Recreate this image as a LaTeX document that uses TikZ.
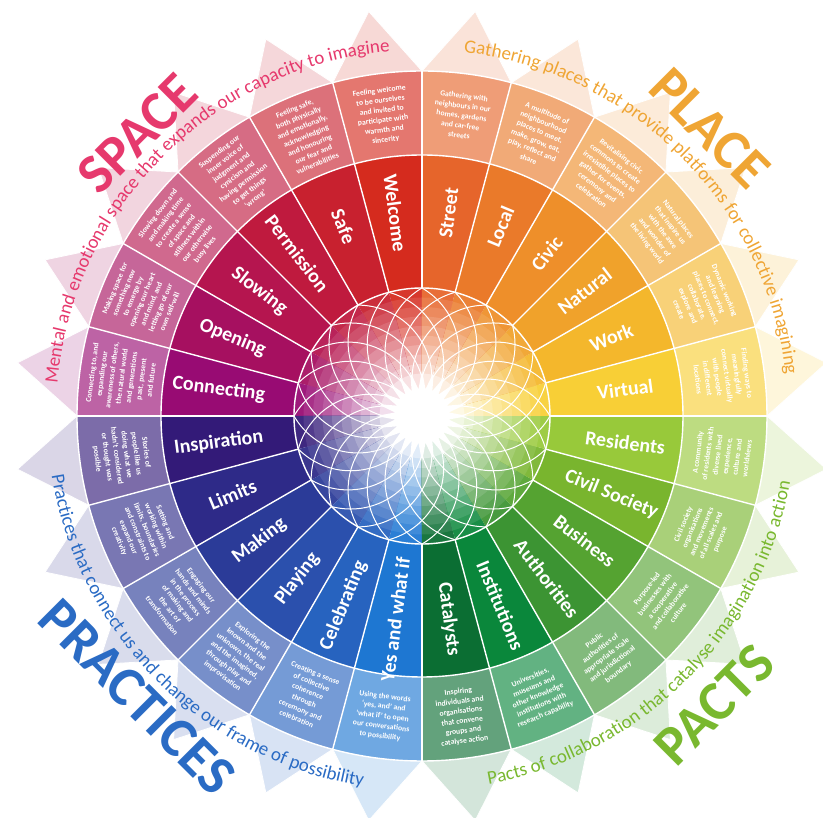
\documentclass[tikz,border=0pt]{standalone}
\usepackage{fontspec}
\setmainfont{Carlito}
\usepackage{tikz}
\usetikzlibrary{decorations.text}
\usepackage{xcolor}
% segment colours
\definecolor{cwelcome}{HTML}{D52B1E}
\definecolor{csafe}{HTML}{C8212F}
\definecolor{cpermission}{HTML}{BF1A3E}
\definecolor{cslowing}{HTML}{B5154F}
\definecolor{copening}{HTML}{A61060}
\definecolor{cconnecting}{HTML}{980B73}
\definecolor{cinspiration}{HTML}{331A78}
\definecolor{climits}{HTML}{2E2A88}
\definecolor{cmaking}{HTML}{2B3B98}
\definecolor{cplaying}{HTML}{2B50AD}
\definecolor{ccelebrating}{HTML}{2763BF}
\definecolor{cyes}{HTML}{1E77D2}
\definecolor{ccatalysts}{HTML}{0B6E33}
\definecolor{cinstitutions}{HTML}{0A873B}
\definecolor{cauthorities}{HTML}{3C9433}
\definecolor{cbusiness}{HTML}{55A331}
\definecolor{ccivil}{HTML}{79B52E}
\definecolor{cresidents}{HTML}{98C93A}
\definecolor{cvirtual}{HTML}{F8CF36}
\definecolor{cwork}{HTML}{F4B72C}
\definecolor{cnatural}{HTML}{F0A22B}
\definecolor{ccivic}{HTML}{EE8F2A}
\definecolor{clocal}{HTML}{EA7A2A}
\definecolor{cstreet}{HTML}{E6652B}
% quadrant colours
\definecolor{spacepink}{HTML}{E6396D}
\definecolor{placegold}{HTML}{EFA534}
\definecolor{practiceblue}{HTML}{2A6BC4}
\definecolor{pactgreen}{HTML}{79B82F}

\tikzset{
  seglabel/.style={text=white,font=\bfseries\fontsize{20}{20}\selectfont,inner sep=0pt},
  desctext/.style={text=white,font=\bfseries\fontsize{7.7}{9.9}\selectfont,align=center,inner sep=0pt},
  bigtitle/.style={font=\bfseries\fontsize{56}{56}\selectfont,inner sep=0pt},
  divider/.style={white,line width=1.4pt},
  arcfont/.style={decorate,decoration={text along path,text align=center,text color=#1}},
}
\newcommand{\arcsize}{\fontsize{19}{19}\selectfont}

\begin{document}
\begin{tikzpicture}[x=1pt,y=1pt]
    \useasboundingbox (-422,-402) rectangle (401,416);
    % wheel segments
    \foreach \n/\ang/\col/\lab/\desc in {
        1/97.5/cwelcome/Welcome/{Feeling welcome\\to be ourselves\\and invited to\\participate with\\warmth and\\sincerity},
        2/112.5/csafe/Safe/{Feeling safe,\\both physically\\and emotionally,\\acknowledging\\and honouring\\our fear and\\vulnerabilities},
        3/127.5/cpermission/Permission/{Suspending our\\inner voice of\\judgment and\\cynicism and\\having permission\\to get things\\‘wrong’},
        4/142.5/cslowing/Slowing/{Slowing down and\\and making time\\to create a sense\\of space and\\stillness within\\our otherwise\\busy lives},
        5/157.5/copening/Opening/{Making space for\\something new\\to emerge by\\opening our heart\\and mind, and\\letting go of our\\own self-will},
        6/172.5/cconnecting/Connecting/{Connecting to, and\\expanding our\\awareness of others,\\the natural world\\and generations\\past, present\\and future},
        7/-172.5/cinspiration/Inspiration/{Stories of\\people like us\\doing what we\\hadn’t considered\\or thought was\\possible},
        8/-157.5/climits/Limits/{Setting and\\working within\\limits, boundaries\\and constraints to\\expand our\\creativity},
        9/-142.5/cmaking/Making/{Engaging our\\hands and minds\\in the process\\of making and\\the art of\\transformation},
        10/-127.5/cplaying/Playing/{Exploring the\\known and the\\unknown, the real\\and the imagined,\\through play and\\improvisation},
        11/-112.5/ccelebrating/Celebrating/{Creating a sense\\of collective\\coherence\\through\\ceremony and\\celebration},
        12/-97.5/cyes/Yes and what if/{Using the words\\‘yes, and’ and\\‘what if’ to open\\our conversations\\to possibility},
        13/-82.5/ccatalysts/Catalysts/{Inspiring\\individuals and\\organisations\\that convene\\groups and\\catalyse action},
        14/-67.5/cinstitutions/Institutions/{Universities,\\museums and\\other knowledge\\institutions with\\research capability},
        15/-52.5/cauthorities/Authorities/{Public\\authorities of\\appropriate scale\\and jurisdictional\\boundary},
        16/-37.5/cbusiness/Business/{Purpose-led\\businesses with\\a cooperative\\and collaborative\\culture},
        17/-22.5/ccivil/Civil Society/{Civil society\\organisations\\and movements\\of all scales and\\purpose},
        18/-7.5/cresidents/Residents/{A community\\of residents with\\diverse lived\\experience,\\culture and\\worldviews},
        19/7.5/cvirtual/Virtual/{Finding ways to\\meaningfully\\connect virtually\\with people\\in different\\locations},
        20/22.5/cwork/Work/{Dynamic working\\and learning\\places to connect,\\collaborate,\\explore and\\create},
        21/37.5/cnatural/Natural/{Natural places\\that inspire us\\with the awe\\and wonder of\\the living world},
        22/52.5/ccivic/Civic/{Revitalising civic\\commons to create\\irresistible places to\\gather for events,\\ceremony and\\celebration},
        23/67.5/clocal/Local/{A multitude of\\neighbourhood\\places to meet,\\make, grow, eat,\\play, reflect and\\share},
        24/82.5/cstreet/Street/{Gathering with\\neighbours in our\\homes, gardens\\and car-free\\streets}} {
        % petal
        \fill[\col!18!white,draw=white,line width=0.8pt] (\ang-7.5:345) -- (\ang:408) -- (\ang+7.5:345) -- cycle;
        % description ring
        \fill[\col!64!white] (\ang-7.5:261) arc[start angle=\ang-7.5,end angle=\ang+7.5,radius=261]
            -- (\ang+7.5:345) arc[start angle=\ang+7.5,end angle=\ang-7.5,radius=345] -- cycle;
        % main ring
        \fill[\col] (\ang-7.5:128) arc[start angle=\ang-7.5,end angle=\ang+7.5,radius=128]
            -- (\ang+7.5:261) arc[start angle=\ang+7.5,end angle=\ang-7.5,radius=261] -- cycle;
        % fading centre
        \foreach \k in {0,...,9} {
            \pgfmathsetmacro\rr{128-9.5*\k}
            \pgfmathtruncatemacro\pp{94-9*\k}
            \fill[\col!\pp!white] (0,0) -- (\ang-7.5:\rr) arc[start angle=\ang-7.5,end angle=\ang+7.5,radius=\rr] -- cycle;
        }
        \pgfmathsetmacro\rl{cos(\ang)>0 ? \ang : \ang+180}
        \pgfmathsetmacro\rd{sin(\ang)>0 ? \ang-90 : \ang+90}
        \node[seglabel,rotate=\rl] (lab\n) at (\ang:205) {\lab};
        \node[desctext,rotate=\rd] (desc\n) at (\ang:303) {\desc};
    }
    % rosette lines
    \begin{scope}
        \clip (0,0) circle[radius=128];
        \foreach \b in {0,15,...,345}
            \draw[white,line width=1pt] (\b:73.9) circle[radius=73.9];
    \end{scope}
    \fill[white] (0:46) \foreach \k in {0,...,23} { -- ({\k*15+7.5}:27) -- ({\k*15+15}:46) } -- cycle;
    % dividers
    \foreach \b in {0,15,...,345}
        \draw[divider] (\b:128) -- (\b:345);
    \draw[divider] (0,0) circle[radius=128];
    \draw[divider] (0,0) circle[radius=261];
    \draw[divider] (0,0) circle[radius=345];
    % arc captions
    \path[arcfont=spacepink,decoration={text={|\arcsize|Mental and emotional space that expands our capacity to imagine}}]
        (180:366) arc[start angle=180,end angle=90,radius=366];
    \path[arcfont=placegold,decoration={text={|\arcsize|Gathering places that provide platforms for collective imagining}}]
        (90:366) arc[start angle=90,end angle=0,radius=366];
    \path[arcfont=practiceblue,decoration={text={|\arcsize|Practices that connect us and change our frame of possibility}}]
        (180:375) arc[start angle=180,end angle=270,radius=375];
    \path[arcfont=pactgreen,decoration={text={|\arcsize|Pacts of collaboration that catalyse imagination into action}}]
        (-90:374) arc[start angle=-90,end angle=0,radius=374];
    % quadrant titles
    \node[bigtitle,text=spacepink,rotate=45] (space) at (135.2:401) {SPACE};
    \node[bigtitle,text=placegold,rotate=-45] (place) at (45:407) {PLACE};
    \node[bigtitle,text=practiceblue,rotate=-45] (practices) at (224.6:400) {PRACTICES};
    \node[bigtitle,text=pactgreen,rotate=45] (pacts) at (-44.6:411) {PACTS};
\end{tikzpicture}
\end{document}
